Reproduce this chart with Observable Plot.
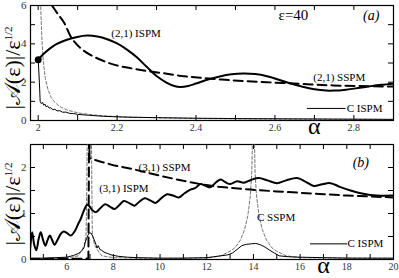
<!DOCTYPE html>
<html><head><meta charset="utf-8">
<script src="https://cdn.jsdelivr.net/npm/d3@7"></script>
<script src="https://cdn.jsdelivr.net/npm/@observablehq/plot@0.6"></script>
<style>body{margin:0;background:#fff} svg{display:block} svg text{font-family:"Liberation Serif","DejaVu Serif",serif !important}</style>
</head><body><div id="chart"></div>
<script>
// ---------- Panel (a) data: [alpha, |A|/eps^1/2] ----------
const ispm21 = [[2.000,3.17],[2.014,3.48],[2.04,3.91],[2.073,4.21],[2.099,4.36],[2.124,4.43],[2.15,4.38],[2.175,4.24],[2.2,4.02],[2.225,3.7],[2.25,3.3],[2.275,2.8],[2.3,2.32],[2.325,1.98],[2.345,1.8],[2.36,1.75],[2.38,1.8],[2.40,1.93],[2.43,2.14],[2.46,2.3],[2.49,2.41],[2.52,2.45],[2.55,2.42],[2.58,2.31],[2.61,2.13],[2.64,1.93],[2.67,1.76],[2.70,1.63],[2.73,1.56],[2.75,1.56],[2.78,1.61],[2.81,1.69],[2.84,1.78],[2.87,1.86],[2.90,1.92]];
const sspm21 = [[2.035,6.0],[2.05,5.55],[2.065,5.13],[2.086,4.26],[2.115,3.65],[2.158,3.17],[2.2,2.87],[2.242,2.70],[2.284,2.56],[2.326,2.44],[2.369,2.31],[2.411,2.23],[2.495,2.09],[2.579,2.0],[2.664,1.91],[2.748,1.83],[2.9,1.77]];
const cIspmA = [[2.0,3.17],[2.003,2.0],[2.005,1.0],[2.008,0.88],[2.011,0.95],[2.014,0.8],[2.017,0.86],[2.02,0.72],[2.024,0.76],[2.028,0.64],[2.032,0.67],[2.037,0.56],[2.042,0.59],[2.048,0.5],[2.055,0.51],[2.062,0.43],[2.07,0.44],[2.08,0.37],[2.09,0.36],[2.1,0.32],[2.13,0.27],[2.165,0.22],[2.23,0.17],[2.3,0.15],[2.4,0.12],[2.5,0.1],[2.6,0.09],[2.7,0.08],[2.8,0.07],[2.9,0.06]];
const cSspmA = [[2.006,6.2],[2.008,5.0],[2.01,4.0],[2.013,3.1],[2.018,2.2],[2.025,1.6],[2.033,1.2],[2.04,1.0],[2.05,0.8],[2.06,0.67],[2.073,0.55],[2.09,0.45],[2.11,0.37],[2.14,0.29],[2.17,0.24],[2.2,0.2],[2.3,0.14],[2.4,0.1],[2.6,0.07],[2.9,0.05]];
const dotA = [[2.0,3.17]];
const legendA = [[2.682,0.63],[2.778,0.63]];
const labelsA = [
  {x:2.248,y:4.54,text:"(2,1) ISPM",size:11,anchor:"middle",italic:false},
  {x:2.763,y:2.24,text:"(2,1) SSPM",size:11,anchor:"middle",italic:false},
  {x:2.647,y:5.48,text:"ε=40",size:15,anchor:"middle",italic:false},
  {x:2.844,y:5.48,text:"(a)",size:14,anchor:"middle",italic:true},
  {x:2.782,y:0.63,text:"C ISPM",size:11,anchor:"start",italic:false}
];
const xDomA = [1.9805, 2.9005], yDomA = [0, 6];
const xMajorA = [2, 2.2, 2.4, 2.6, 2.8], xMinorA = [2.1, 2.3, 2.5, 2.7];
const yMajorA = [0, 2, 4, 6], yMinorA = [1, 3, 5];

// ---------- Panel (b) data ----------
const ispm31 = [[4.42,0.12],[4.52,0.59],[4.61,0.32],[4.7,0.2],[4.8,0.45],[4.89,0.59],[4.99,0.42],[5.09,0.3],[5.18,0.42],[5.28,0.52],[5.38,0.42],[5.48,0.32],[5.6,0.42],[5.75,0.56],[5.87,0.61],[6.0,0.58],[6.17,0.52],[6.35,0.62],[6.5,0.78],[6.6,0.88],[6.75,1.08],[6.88,1.19],[7.0,1.14],[7.1,1.07],[7.25,1.03],[7.45,1.12],[7.65,1.2],[7.85,1.15],[8.05,1.1],[8.25,1.18],[8.45,1.27],[8.7,1.22],[8.9,1.17],[9.1,1.25],[9.35,1.33],[9.6,1.28],[9.8,1.23],[10.05,1.33],[10.3,1.42],[10.55,1.39],[10.8,1.35],[11.05,1.44],[11.3,1.52],[11.5,1.55],[11.73,1.64],[11.95,1.6],[12.16,1.57],[12.4,1.68],[12.6,1.74],[12.8,1.68],[13.01,1.64],[13.3,1.7],[13.59,1.67],[13.9,1.73],[14.23,1.77],[14.6,1.72],[15.01,1.66],[15.4,1.72],[15.87,1.77],[16.2,1.7],[16.58,1.6],[16.9,1.63],[17.3,1.66],[17.7,1.58],[18.16,1.5],[18.7,1.43],[19.3,1.39],[20.0,1.39]];
const sspm31 = [[4.45,0.01],[6.93,0.02],[6.96,2.7],[6.98,2.2],[7.5,2.12],[8.0,2.05],[8.87,1.96],[10.0,1.82],[11.0,1.71],[11.73,1.64],[12.5,1.58],[13.87,1.52],[15.0,1.48],[16.0,1.45],[17.0,1.42],[18.0,1.39],[19.0,1.37],[20.0,1.35]];
const cIspmB = [[4.45,0.03],[5.0,0.03],[5.5,0.04],[6.0,0.05],[6.3,0.09],[6.5,0.13],[6.6,0.17],[6.7,0.22],[6.75,0.27],[6.8,0.38],[6.85,0.45],[6.9,0.52],[6.97,0.58],[7.05,0.57],[7.12,0.5],[7.2,0.4],[7.27,0.3],[7.3,0.25],[7.35,0.3],[7.42,0.22],[7.5,0.2],[7.6,0.16],[7.75,0.13],[7.9,0.1],[8.2,0.07],[8.6,0.05],[9.0,0.04],[10,0.03],[11,0.03],[12,0.04],[12.3,0.06],[12.6,0.08],[12.9,0.1],[13.1,0.14],[13.3,0.22],[13.5,0.3],[13.7,0.33],[13.9,0.34],[14.1,0.35],[14.3,0.32],[14.5,0.27],[14.7,0.2],[14.9,0.14],[15.1,0.08],[15.5,0.06],[16,0.05],[17,0.04],[18,0.03],[19,0.03],[20,0.03]];
const cSspmB = [[4.45,0.01],[6.0,0.03],[6.5,0.08],[6.75,0.3],[6.83,0.55],[6.86,1.5],[6.88,2.7],[7.06,2.7],[7.08,1.5],[7.1,0.55],[7.2,0.3],[7.5,0.08],[8,0.04],[10,0.02],[12,0.03],[12.6,0.08],[13.0,0.18],[13.2,0.25],[13.44,0.42],[13.62,0.65],[13.76,0.95],[13.87,1.4],[13.93,1.9],[13.96,2.7],[14.04,2.7],[14.07,1.9],[14.13,1.4],[14.24,0.95],[14.38,0.65],[14.56,0.42],[14.8,0.25],[15.0,0.18],[15.4,0.08],[16,0.04],[20,0.02]];
const legendB = [[16.44,0.34],[18.0,0.34]];
const labelsB = [
  {x:10.19,y:2.0,text:"(3,1) SSPM",size:11,anchor:"middle",italic:false},
  {x:8.45,y:1.55,text:"(3,1) ISPM",size:11,anchor:"middle",italic:false},
  {x:14.15,y:0.92,text:"C SSPM",size:11,anchor:"start",italic:false},
  {x:18.6,y:2.11,text:"(b)",size:14,anchor:"middle",italic:true},
  {x:18.03,y:0.34,text:"C ISPM",size:11,anchor:"start",italic:false}
];
const xDomB = [4.45, 20], yDomB = [0, 2.5];
const xMajorB = [6, 8, 10, 12, 14, 16, 18, 20], xMinorB = [5, 7, 9, 11, 13, 15, 17, 19];
const yMajorB = [0, 1, 2], yMinorB = [0.5, 1.5];

const alphaLabel = "α";
const yTitleMain = "|𝒜(ε)|/ε", yTitleSup = "1/2";

const W = 399, ML = 30, MR = 6, TL = 5;
const font = "'Liberation Serif', 'DejaVu Serif', serif";

function panel(o) {
  const fh = o.height - o.marginTop - o.marginBottom;
  const fw = W - ML - MR;
  const xt = [...o.xMajor, ...o.xMinor], yt = [...o.yMajor, ...o.yMinor];
  const P = d => d[0], Q = d => d[1];
  const marks = [
    Plot.frame({stroke: "black", strokeWidth: 1.2}),
    Plot.tickX(xt, {x: d => d, insetTop: fh - TL, strokeWidth: 1}),
    Plot.tickX(xt, {x: d => d, insetBottom: fh - TL, strokeWidth: 1}),
    Plot.tickY(yt, {y: d => d, insetRight: fw - TL, strokeWidth: 1}),
    Plot.tickY(yt, {y: d => d, insetLeft: fw - TL, strokeWidth: 1}),
    Plot.axisX(o.xMajor, {tickSize: 0, tickPadding: 3, tickFormat: d => String(d), label: null, fill: "#333", fontSize: 10}),
    Plot.axisY(o.yMajor, {tickSize: 0, tickPadding: 4, tickFormat: d => String(d), label: null, fill: "#333", fontSize: 11}),
    ...o.series.map(s => Plot.line(s.data, {x: P, y: Q, clip: true, stroke: s.stroke || "black", strokeWidth: s.w, strokeDasharray: s.dash, curve: s.curve || "linear"})),
    Plot.line(o.legend, {x: P, y: Q, stroke: "black", strokeWidth: 1}),
    ...o.labels.map(l => Plot.text([l], {x: "x", y: "y", text: "text", fontSize: l.size, textAnchor: l.anchor, fontStyle: l.italic ? "italic" : "normal", fill: "black"})),
    Plot.text([alphaLabel], {frameAnchor: "bottom", x: [o.alphaX], text: d => d, dy: 13, fontSize: 24, fill: "black"}),
    ...(o.extra || [])
  ];
  const svg = Plot.plot({
    width: W, height: o.height, marginLeft: ML, marginRight: MR, marginTop: o.marginTop, marginBottom: o.marginBottom,
    x: {domain: o.xDom}, y: {domain: o.yDom},
    style: {fontFamily: font, background: "white", overflow: "visible"},
    marks
  });
  const t = d3.select(svg).append("text")
    .attr("transform", `translate(20,${o.titleY}) rotate(-90)`)
    .attr("text-anchor", "middle")
    .attr("font-size", 22)
    .attr("fill", "black");
  t.append("tspan").text(yTitleMain);
  t.append("tspan").attr("dy", -8).attr("font-size", 11).text(yTitleSup);
  return svg;
}

const panelTop = panel({
  height: 140, marginTop: 5, marginBottom: 20, xDom: xDomA, yDom: yDomA, titleY: 68,
  xMajor: xMajorA, xMinor: xMinorA, yMajor: yMajorA, yMinor: yMinorA, alphaX: 2.7,
  series: [
    {data: cSspmA, w: 0.9, dash: "3,2", stroke: "#666"},
    {data: cIspmA, w: 1},
    {data: sspm21, w: 2, dash: "9,5", curve: "catmull-rom"},
    {data: ispm21, w: 2, curve: "catmull-rom"}
  ],
  legend: legendA, labels: labelsA,
  extra: [Plot.dot(dotA, {x: d => d[0], y: d => d[1], r: 3.5, fill: "black"})]
});
const panelBottom = panel({
  height: 138, marginTop: 4, marginBottom: 19, xDom: xDomB, yDom: yDomB, titleY: 64,
  xMajor: xMajorB, xMinor: xMinorB, yMajor: yMajorB, yMinor: yMinorB, alphaX: 17,
  series: [
    {data: cSspmB, w: 0.9, dash: "3,2", stroke: "#666"},
    {data: cIspmB, w: 1},
    {data: sspm31, w: 2, dash: "9,5"},
    {data: ispm31, w: 2, curve: "catmull-rom"}
  ],
  legend: legendB, labels: labelsB
});
document.getElementById("chart").append(panelTop, panelBottom);
</script></body></html>
